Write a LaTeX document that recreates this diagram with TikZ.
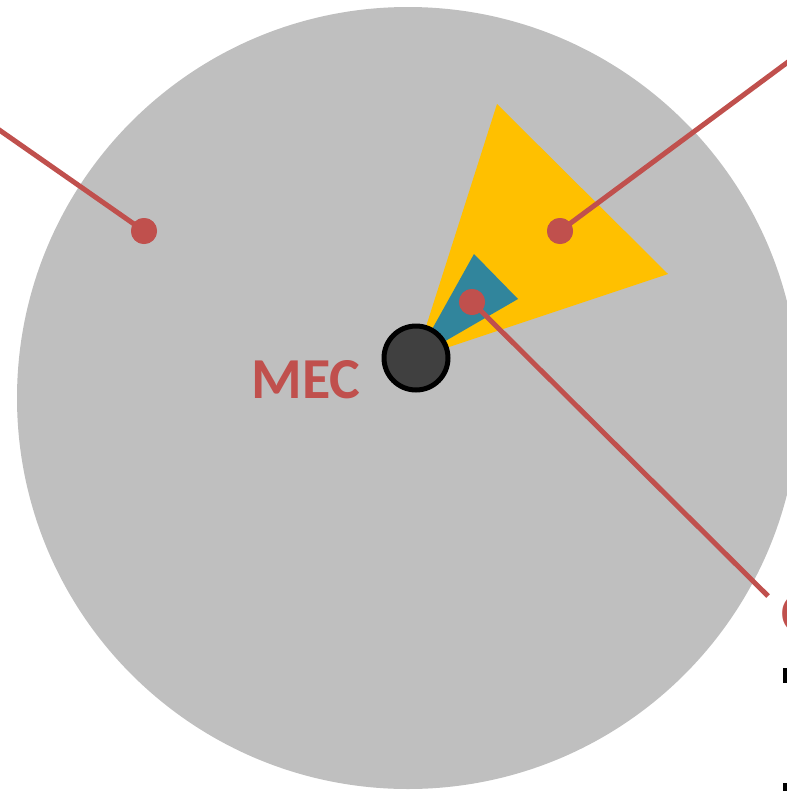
\documentclass[tikz,border=0pt]{standalone}
\usepackage{fontspec}
\setmainfont{Carlito}
\definecolor{ringgray}{HTML}{BFBFBF}
\definecolor{sectoryellow}{HTML}{FFC000}
\definecolor{sectorteal}{HTML}{31859C}
\definecolor{accentred}{HTML}{C0504D}
\definecolor{coredark}{HTML}{404040}
\begin{document}
\begin{tikzpicture}[x=0.02cm,y=-0.02cm,
  dot/.style={circle,fill=accentred,inner sep=0pt,minimum size=26*0.02cm},
  leader/.style={draw=accentred,line width=5*0.02cm},
  core/.style={circle,fill=coredark,draw=black,line width=5*0.02cm,inner sep=0pt,minimum size=64*0.02cm},
  redlabel/.style={text=accentred,font=\bfseries\fontsize{33}{40}\selectfont,inner sep=0pt}]
\useasboundingbox (0,0) rectangle (787,791);
\clip (0,0) rectangle (787,791);
% coverage circle
\fill[ringgray] (408,398) circle[radius=391];
% sectors
\fill[sectoryellow] (416,358) -- (497,104) -- (668,274) -- cycle;
\fill[sectorteal] (416,358) -- (474,254) -- (518,299) -- cycle;
% points
\node[dot] (p1) at (144,231) {};
\node[dot] (p2) at (560,231) {};
\node[dot] (p3) at (472,302) {};
\coordinate (e1) at (-5,127);
\coordinate (e2) at (792,59);
\coordinate (e3) at (768,596);
\draw[leader] (p1.center) -- (e1);
\draw[leader] (p2.center) -- (e2);
\draw[leader] (p3.center) -- (e3);
\node[dot] at (p1) {};
\node[dot] at (p2) {};
\node[dot] at (p3) {};
% core
\node[core] (mec) at (416,358) {};
\node[redlabel] (meclabel) at (306,380) {MEC};
% cut-off labels at right edge
\node[redlabel,anchor=west] (cutlabel) at (781,614) {C};
\fill[black] (783,668) rectangle (790,683);
\fill[black] (783,783) rectangle (790,795);
\end{tikzpicture}
\end{document}
